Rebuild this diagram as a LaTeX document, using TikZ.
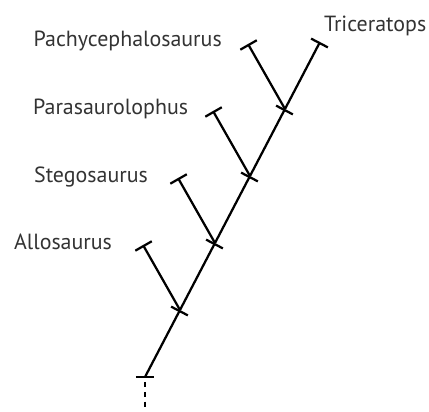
\documentclass[tikz,border=0pt]{standalone}
\usepackage{fontspec}
\setmainfont{PT Sans}
\usetikzlibrary{arrows.meta}

\begin{document}
\begin{tikzpicture}[
      line width=1.6pt,
      stem/.style={-{Bar[width=13.5pt]}},
      taxon/.style={anchor=base west, inner sep=0pt, text=black!80,
                    font=\fontsize{15.6}{18}\selectfont},
      dots/.style={dash pattern=on 3.5pt off 3.5pt, dash phase=3.5pt}
  ]
  \useasboundingbox (0,0) rectangle (10.725,10.3);

  % trunk
  \coordinate (root) at (3.625,0.875);
  \coordinate (n1) at (4.5,2.55);
  \coordinate (n2) at (5.375,4.225);
  \coordinate (n3) at (6.25,5.9);
  \coordinate (n4) at (7.125,7.575);
  \coordinate (top) at (8.0,9.25);

  % branch tips
  \coordinate (e1) at (3.575,4.175);
  \coordinate (e2) at (4.45,5.85);
  \coordinate (e3) at (5.325,7.525);
  \coordinate (e4) at (6.2,9.2);

  \draw[stem] (root) -- (n1);
  \foreach \a/\b in {n1/n2, n2/n3, n3/n4, n4/top} {
      \draw[stem] (\a) -- (\b);
  }
  \foreach \i in {1,2,3,4} {
      \draw[stem] (n\i) -- (e\i);
  }

  \draw ([xshift=-0.225cm]root) -- ([xshift=0.225cm]root);
  \draw[dots] (root) -- ++(0,-0.775);

  \node[taxon] (trice) at (8.075,9.51) {Triceratops};
  \node[taxon] (pachy) at (0.8125,9.13) {Pachycephalosaurus};
  \node[taxon] (para) at (0.8,7.425) {Parasaurolophus};
  \node[taxon] (stego) at (0.825,5.725) {Stegosaurus};
  \node[taxon] (allo) at (0.325,4.05) {Allosaurus};

\end{tikzpicture}
\end{document}
